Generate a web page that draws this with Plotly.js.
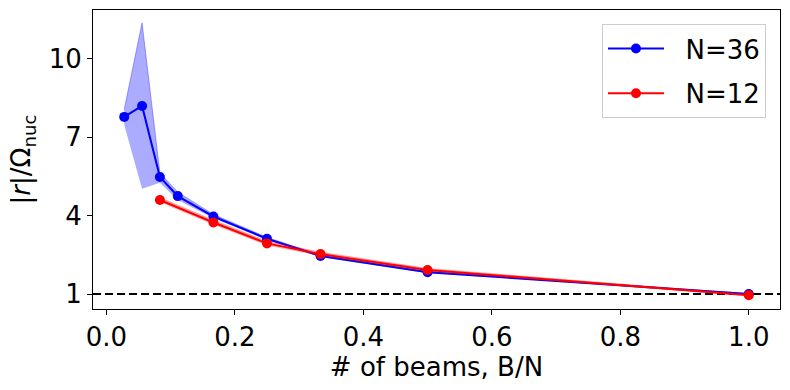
<!DOCTYPE html>
<html>
<head>
<meta charset="utf-8">
<script src="https://cdn.plot.ly/plotly-3.0.1.min.js"></script>
<style>
  html, body { margin: 0; padding: 0; background: #fff; }
  #chart { width: 790px; height: 390px; }
</style>
</head>
<body>
<div id="chart"></div>
<script>
"use strict"

// number of beams for each ring size
let beams36 = [1, 2, 3, 4, 6, 9, 12, 18, 36],
	beams12 = [1, 2, 3, 4, 6, 12];

// |r|/Omega_nuc
let mean36 = [7.78, 8.20, 5.48, 4.75, 3.97, 3.12, 2.46, 1.84, 1.00],
	low36  = [7.48, 5.03, 5.26, 4.60, 3.90, 3.07, 2.42, 1.81, 0.98],
	high36 = [8.06, 11.38, 5.64, 4.90, 4.05, 3.17, 2.50, 1.87, 1.02];

let mean12 = [4.60, 3.74, 2.94, 2.53, 1.92, 0.96],
	low12  = [4.51, 3.65, 2.86, 2.46, 1.86, 0.93],
	high12 = [4.69, 3.83, 3.02, 2.60, 1.98, 0.99];

let xTicks = [0, 0.2, 0.4, 0.6, 0.8, 1.0],
	yTicks = [1, 4, 7, 10];

let x36 = beams36.map(b => b / 36),
	x12 = beams12.map(b => b / 12);

function band(x, lo, hi, color){
	let lower = {
		x: x, y: lo,
		mode: 'lines',
		line: {width: 0, color: color},
		hoverinfo: 'skip',
		showlegend: false,
		type: 'scatter'
	};
	let upper = {
		x: x, y: hi,
		mode: 'lines',
		line: {width: 1, color: color},
		fill: 'tonexty',
		fillcolor: color,
		hoverinfo: 'skip',
		showlegend: false,
		type: 'scatter'
	};
	return [lower, upper];
}

function series(x, y, name, color){
	return {
		x: x, y: y,
		name: '\u00a0\u00a0' + name,
		legendgroup: name,
		mode: 'lines+markers',
		line: {width: 2, color: color},
		marker: {size: 10, color: color},
		type: 'scatter'
	};
}

let font = {family: 'DejaVu Sans', size: 26, color: '#000'};

let dataList = []
	.concat(band(x36, low36, high36, 'rgba(0,0,255,0.33)'))
	.concat([series(x36, mean36, 'N=36', '#0000ff')])
	.concat(band(x12, low12, high12, 'rgba(255,0,0,0.3)'))
	.concat([series(x12, mean12, 'N=12', '#ff0000')]);

let layout = {
	width: 790,
	height: 390,
	margin: {l: 93, r: 10, t: 10, b: 81, pad: 0},
	paper_bgcolor: '#fff',
	plot_bgcolor: '#fff',
	font: font,
	showlegend: true,
	xaxis: {
		range: [-0.0208, 1.0486],
		tickvals: xTicks,
		ticktext: xTicks.map(v => v.toFixed(1)),
		ticks: 'outside', ticklen: 5, tickwidth: 1, tickcolor: '#000',
		showline: true, mirror: true, linecolor: '#000', linewidth: 1,
		showgrid: false, zeroline: false,
		tickfont: font,
		title: {text: '# of beams, B/N', font: font, standoff: 0}
	},
	yaxis: {
		range: [0.43, 11.87],
		tickvals: yTicks,
		ticks: 'outside', ticklen: 5, tickwidth: 1, tickcolor: '#000',
		showline: true, mirror: true, linecolor: '#000', linewidth: 1,
		showgrid: false, zeroline: false,
		tickfont: font,
		title: {text: '|<i>r</i>|/Ω<sub>nuc</sub>', font: font, standoff: 10}
	},
	legend: {
		x: 0.9796, y: 0.953,
		xanchor: 'right', yanchor: 'top',
		traceorder: 'grouped',
		tracegroupgap: 8,
		bgcolor: 'rgba(255,255,255,0.8)',
		bordercolor: '#cccccc', borderwidth: 1,
		font: font,
		itemwidth: 56
	},
	shapes: [{
		type: 'line',
		xref: 'paper', x0: 0, x1: 1,
		yref: 'y', y0: 1, y1: 1,
		line: {color: '#000', width: 2, dash: '8px,4px'},
		layer: 'below'
	}]
};

Plotly.newPlot('chart', dataList, layout, {displayModeBar: false, staticPlot: true});
</script>
</body>
</html>
